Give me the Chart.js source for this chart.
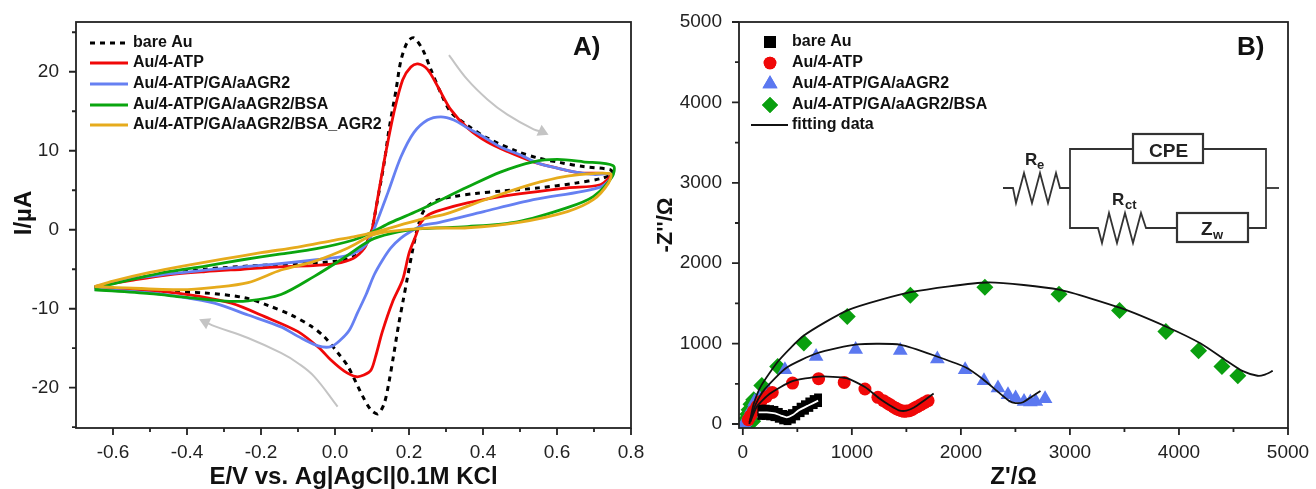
<!DOCTYPE html>
<html>
<head>
<meta charset="utf-8">
<title>CV and EIS</title>
<script src="https://cdn.jsdelivr.net/npm/chart.js@4"></script>
<style>
  body { margin: 0; background: #fff; }
  canvas { position: absolute; top: 0; }
  #chartA { left: 0; }
  #chartB { left: 650px; }
</style>
</head>
<body>
<canvas id="chartA" width="650" height="489"></canvas>
<canvas id="chartB" width="666" height="489"></canvas>
<script>
// Panel A: cyclic voltammograms, [E, I] pairs
const cvBare = [[-0.65,-7.3],[-0.55,-6.2],[-0.45,-5.6],[-0.35,-5],[-0.3,-4.8],[-0.2,-4.5],[-0.1,-4.3],[0,-4],[0.05,-3.4],[0.08,-2.2],[0.092,-1],[0.1,0],[0.108,2],[0.133,8.5],[0.146,12.7],[0.165,17.7],[0.178,21.4],[0.196,23.8],[0.213,24.3],[0.237,22.8],[0.259,20.3],[0.286,17.3],[0.313,14.9],[0.358,13.2],[0.412,11.6],[0.493,9.9],[0.547,9.1],[0.609,8.5],[0.671,8],[0.744,7.6],[0.75,7.1],[0.72,6.5],[0.65,5.9],[0.55,5.3],[0.45,4.9],[0.38,4.6],[0.32,4.2],[0.27,3.6],[0.24,2.4],[0.222,0],[0.208,-3],[0.196,-6],[0.184,-9],[0.172,-12],[0.158,-16],[0.145,-19.5],[0.133,-22],[0.116,-23.3],[0.097,-22.8],[0.075,-21.1],[0.035,-17.3],[0.008,-15.6],[-0.03,-13.5],[-0.065,-12.2],[-0.118,-10.8],[-0.18,-9.6],[-0.245,-8.6],[-0.353,-8],[-0.46,-7.8],[-0.65,-7.3]];
const cvAtp = [[-0.65,-7.2],[-0.55,-6.4],[-0.45,-5.7],[-0.35,-5.3],[-0.25,-5],[-0.15,-4.7],[-0.05,-4.5],[0,-4.3],[0.05,-3.6],[0.08,-2.3],[0.092,-1],[0.1,0],[0.108,2],[0.119,5],[0.137,9.7],[0.159,14.8],[0.183,19],[0.205,20.6],[0.224,21],[0.25,20.3],[0.278,18.1],[0.313,15.2],[0.358,12.9],[0.412,11.1],[0.466,9.9],[0.536,8.6],[0.601,7.8],[0.663,7.2],[0.744,7],[0.717,5.7],[0.628,5.3],[0.447,4.2],[0.358,3.4],[0.286,2.5],[0.253,1.9],[0.232,0.9],[0.218,-0.8],[0.2,-3],[0.183,-6.3],[0.155,-9.2],[0.128,-12.9],[0.11,-16],[0.097,-17.8],[0.078,-18.4],[0.057,-18.6],[0.025,-17.9],[-0.011,-16.5],[-0.042,-15],[-0.1,-12.9],[-0.19,-11],[-0.28,-9.3],[-0.37,-8.4],[-0.47,-7.8],[-0.65,-7.3]];
const cvAgr2 = [[-0.65,-7.2],[-0.55,-6.2],[-0.45,-5.6],[-0.35,-5.1],[-0.25,-4.7],[-0.15,-4.3],[-0.05,-3.8],[0.03,-3.3],[0.07,-2.5],[0.09,-1.5],[0.105,0],[0.143,4.7],[0.178,9.2],[0.213,12.3],[0.25,13.9],[0.286,14.3],[0.321,13.9],[0.358,12.9],[0.4,11.8],[0.45,10.4],[0.5,9.5],[0.55,8.4],[0.6,7.8],[0.65,7.3],[0.7,7],[0.75,7],[0.717,5.4],[0.536,3.8],[0.402,2.3],[0.28,0.9],[0.24,0.6],[0.213,0],[0.178,-1.05],[0.151,-2.3],[0.129,-3.8],[0.106,-5.7],[0.084,-8.2],[0.061,-10.5],[0.039,-12.7],[0.016,-13.9],[-0.011,-14.8],[-0.046,-14.7],[-0.1,-13.5],[-0.146,-12.3],[-0.235,-10.8],[-0.326,-9.3],[-0.415,-8.5],[-0.5,-8],[-0.65,-7.5]];
const cvBsa = [[-0.65,-7.4],[-0.55,-6.3],[-0.45,-5.3],[-0.35,-4.6],[-0.25,-3.8],[-0.15,-3.1],[-0.05,-2.4],[0.05,-1.3],[0.1,-0.3],[0.15,0.9],[0.224,2.4],[0.358,5.4],[0.447,7.3],[0.536,8.6],[0.601,8.9],[0.671,8.6],[0.752,8.1],[0.749,6.7],[0.698,4.2],[0.628,2.8],[0.493,1],[0.358,0.4],[0.224,0.1],[0.15,-0.5],[0.097,-1.3],[0.016,-3.8],[-0.056,-5.9],[-0.146,-8.2],[-0.235,-9],[-0.307,-9],[-0.415,-8.5],[-0.5,-8.1],[-0.65,-7.6]];
const cvBsaAgr2 = [[-0.65,-7.2],[-0.6,-6.5],[-0.5,-5.4],[-0.4,-4.5],[-0.3,-3.7],[-0.2,-2.9],[-0.1,-2.2],[0,-1.3],[0.05,-0.9],[0.1,-0.4],[0.232,1.3],[0.3,2],[0.4,3.7],[0.5,5.3],[0.55,6],[0.628,6.8],[0.744,7.1],[0.739,5.9],[0.698,3.8],[0.628,2.3],[0.493,0.9],[0.358,0.25],[0.25,0.2],[0.15,-0.2],[0.1,-0.7],[0.035,-2.3],[-0.056,-4],[-0.146,-5.1],[-0.235,-6.7],[-0.326,-7.3],[-0.415,-7.6],[-0.6,-7.3],[-0.65,-7.2]];
// grey scan direction arrows
const arrowForward = [[0.308,22.1],[0.358,19],[0.412,16.5],[0.465,14.6],[0.537,12.7],[0.56,12.4]];
const arrowBackward = [[0.007,-22.4],[-0.056,-18.6],[-0.1,-16.9],[-0.146,-15.6],[-0.235,-13.7],[-0.326,-12.2],[-0.35,-11.7]];

// Panel B: Nyquist points, [Z', -Z''] pairs
const eisBare = [[170,190],[210,190],[250,185],[290,175],[330,150],[370,125],[410,115],[450,135],[490,175],[530,215],[570,245],[610,280],[650,310],[690,330],[170,100],[210,100],[250,95],[290,85],[330,65],[370,45],[410,35],[450,55],[490,95],[530,135],[570,165],[610,200],[650,235],[690,260]];
const eisAtp = [[50,54],[70,100],[97,157],[130,220],[166,281],[215,340],[270,393],[456,509],[695,563],[930,517],[1120,435],[1239,331],[1290,290],[1324,261],[1350,240],[1382,211],[1405,195],[1429,178],[1455,165],[1479,157],[1500,160],[1529,166],[1555,180],[1575,199],[1600,215],[1633,240],[1665,265],[1699,290]];
const eisAgr2 = [[12,5],[20,30],[50,95],[80,190],[108,281],[150,330],[235,405],[386,675],[672,840],[1035,925],[1444,915],[1784,807],[2039,675],[2212,538],[2340,447],[2432,364],[2502,323],[2579,281],[2637,273],[2687,281],[2772,315]];
const eisBsa = [[54,5],[70,15],[90,35],[35,40],[40,75],[45,120],[58,178],[75,245],[100,302],[174,480],[320,716],[560,1006],[958,1337],[1537,1602],[2220,1700],[2900,1614],[3455,1411],[3880,1150],[4180,910],[4394,716],[4540,600]];
// fitting lines
const fitBare = [[145,145],[220,145],[296,133],[350,105],[403,83],[460,115],[509,166],[600,230],[691,290]];
const fitAtp = [[70,30],[130,220],[250,380],[450,530],[700,590],[950,570],[1120,460],[1250,320],[1350,230],[1430,170],[1500,165],[1570,205],[1650,280],[1750,380]];
const fitAgr2 = [[60,20],[120,250],[200,430],[400,700],[680,880],[1050,990],[1450,985],[1800,830],[2050,700],[2200,560],[2340,400],[2440,290],[2500,260],[2570,270],[2650,340],[2730,410]];
const fitBsa = [[60,0],[100,250],[170,480],[330,790],[560,1100],[970,1420],[1540,1640],[2250,1760],[2900,1670],[3470,1440],[3900,1200],[4200,1000],[4420,800],[4580,660],[4720,600],[4780,610],[4860,660]];

// Tick labels
const aXTicks = [-0.6, -0.4, -0.2, 0, 0.2, 0.4, 0.6, 0.8];
const aXMinor = [-0.5, -0.3, -0.1, 0.1, 0.3, 0.5, 0.7];
const aYTicks = [-20, -10, 0, 10, 20];
const aYMinor = [-25, -15, -5, 5, 15, 25];
const bTicks = [0, 1000, 2000, 3000, 4000, 5000];
const bMinor = [500, 1500, 2500, 3500, 4500];

const FONT = "'Liberation Sans', Arial, sans-serif";
const RED = "#f00808", BLUE = "#6680f2", GREEN = "#0aa50f", GOLD = "#e6ab1c", GREY = "#c4c4c4";
const MARK_BLUE = "#5b78f0", MARK_GREEN = "#0a9f0f";

function toPoints(pairs) {
  return pairs.map((p) => ({ x: p[0], y: p[1] }));
}

function curve(pairs, color, extra) {
  return Object.assign({ data: toPoints(pairs), showLine: true, borderColor: color, borderWidth: 2.8, tension: 0.3, pointRadius: 0 }, extra);
}

function markers(pairs, color, style, radius) {
  return { data: toPoints(pairs), showLine: false, pointStyle: style, pointRadius: radius, pointBackgroundColor: color, pointBorderColor: color, pointBorderWidth: 0, order: 5 };
}

function fitLine(pairs, color) {
  return { data: toPoints(pairs), showLine: true, borderColor: color, borderWidth: 1.8, tension: 0.2, pointRadius: 0, order: 1 };
}

// Grey arrow: a curve ending in a rotated triangle point
function arrow(pairs, angle) {
  return {
    data: toPoints(pairs), showLine: true, borderColor: GREY, borderWidth: 2, tension: 0.4,
    pointStyle: "triangle", pointBackgroundColor: GREY, pointBorderWidth: 0,
    pointRadius: (c) => (c.dataIndex === pairs.length - 1 ? 7 : 0),
    pointRotation: angle,
  };
}

function axis(min, max, ticks, title, opts) {
  return {
    type: "linear", min, max,
    grid: { display: false }, border: { display: false },
    afterBuildTicks: (s) => { s.ticks = ticks.map((v) => ({ value: v })); },
    afterFit: opts.fit,
    ticks: { autoSkip: false, maxRotation: 0, padding: opts.pad, color: "#222", font: { family: FONT, size: 19 }, callback: (v) => (opts.fmt ? opts.fmt(v) : String(v)) },
    title: { display: !!title, text: title, color: "#111", padding: opts.titlePad, font: { family: FONT, size: opts.titleSize, weight: "bold" } },
  };
}

// Frame, major and minor tick marks
const frame = {
  id: "frame",
  afterDraw(chart, args, o) {
    const { ctx, chartArea: a, scales } = chart;
    ctx.save();
    ctx.strokeStyle = "#222";
    ctx.lineWidth = 1.8;
    ctx.strokeRect(a.left, a.top, a.right - a.left, a.bottom - a.top);
    const tickX = (v, len) => { const p = scales.x.getPixelForValue(v); ctx.moveTo(p, a.bottom); ctx.lineTo(p, a.bottom + len); };
    const tickY = (v, len) => { const p = scales.y.getPixelForValue(v); ctx.moveTo(a.left, p); ctx.lineTo(a.left - len, p); };
    ctx.beginPath();
    o.xTicks.forEach((v) => tickX(v, 7));
    o.xMinor.forEach((v) => tickX(v, 4));
    o.yTicks.forEach((v) => tickY(v, 7));
    o.yMinor.forEach((v) => tickY(v, 4));
    ctx.stroke();
    ctx.restore();
  },
};

// Hand placed legend, panel letter and the off-centre side title
const notes = {
  id: "notes",
  afterDraw(chart, args, o) {
    const ctx = chart.ctx;
    ctx.save();
    ctx.textBaseline = "middle";
    ctx.textAlign = "left";
    o.rows.forEach((r) => {
      if (r.line) {
        ctx.beginPath();
        ctx.strokeStyle = r.line;
        ctx.lineWidth = r.width;
        ctx.setLineDash(r.dash || []);
        ctx.moveTo(o.lineFrom, r.y);
        ctx.lineTo(o.lineTo, r.y);
        ctx.stroke();
        ctx.setLineDash([]);
      } else {
        ctx.fillStyle = r.color;
        Chart.helpers.drawPoint(ctx, { pointStyle: r.style, radius: r.radius, borderWidth: 0, rotation: 0 }, o.markX, r.y);
        ctx.fill();
      }
      ctx.fillStyle = "#111";
      ctx.font = "bold 16px " + FONT;
      ctx.fillText(r.text, o.textX, r.y);
    });
    ctx.font = "bold 26px " + FONT;
    ctx.fillText(o.letter, o.letterX, 48);
    if (o.side) {
      ctx.translate(o.side.x, o.side.y);
      ctx.rotate(-Math.PI / 2);
      ctx.textAlign = "center";
      ctx.font = "bold " + o.side.size + "px " + FONT;
      ctx.fillText(o.side.text, 0, 0);
    }
    ctx.restore();
  },
};

function poly(ctx, pts) {
  ctx.beginPath();
  pts.forEach((p, i) => (i ? ctx.lineTo(p[0], p[1]) : ctx.moveTo(p[0], p[1])));
  ctx.stroke();
}

// Equivalent circuit inset of panel B
const circuit = {
  id: "circuit",
  afterDraw(chart) {
    const ctx = chart.ctx;
    ctx.save();
    ctx.translate(350, 120);
    ctx.strokeStyle = "#333";
    ctx.lineWidth = 1.8;
    poly(ctx, [[3,68],[13,68],[16,83],[24,53],[32,83],[40,53],[48,83],[56,53],[60,68],[70,68]]);
    poly(ctx, [[133,29],[70,29],[70,108],[98,108],[102,123],[109,93],[117,123],[125,93],[133,123],[141,93],[146,108],[177,108]]);
    poly(ctx, [[203,29],[266,29],[266,108],[248,108]]);
    poly(ctx, [[266,68],[279,68]]);
    ctx.lineWidth = 2.2;
    ctx.strokeRect(133, 14, 70, 29);
    ctx.strokeRect(177, 93, 71, 29);
    ctx.fillStyle = "#222";
    ctx.textBaseline = "alphabetic";
    ctx.font = "bold 19px " + FONT;
    ctx.fillText("CPE", 149, 37);
    ctx.fillText("Z", 201, 115);
    ctx.font = "bold 17px " + FONT;
    ctx.fillText("R", 25, 45);
    ctx.fillText("R", 112, 85);
    ctx.font = "bold 13px " + FONT;
    ctx.fillText("e", 37, 49);
    ctx.fillText("ct", 125, 89);
    ctx.fillText("w", 213, 119);
    ctx.restore();
  },
};

new Chart(document.getElementById("chartA"), {
  type: "scatter",
  data: {
    datasets: [
      curve(cvBare, "#000", { borderDash: [5, 5], borderWidth: 3, order: 6 }),
      curve(cvAtp, RED, { order: 5 }),
      curve(cvAgr2, BLUE, { order: 4 }),
      curve(cvBsa, GREEN, { order: 3 }),
      curve(cvBsaAgr2, GOLD, { order: 2 }),
      arrow(arrowForward, 115),
      arrow(arrowBackward, -65),
    ],
  },
  options: {
    responsive: false,
    animation: false,
    layout: { autoPadding: false, padding: { top: 22, right: 19 } },
    scales: {
      x: axis(-0.7, 0.8, aXTicks, "E/V vs. Ag|AgCl|0.1M KCl", { fit: (s) => { s.height = 61; }, pad: 5, titleSize: 24, titlePad: { top: 0, bottom: -3 }, fmt: (v) => v.toFixed(1) }),
      y: axis(-25.1, 26.3, aYTicks, "", { fit: (s) => { s.width = 76; }, pad: 9, titleSize: 24, titlePad: 0 }),
    },
    plugins: {
      legend: { display: false },
      tooltip: { enabled: false },
      frame: { xTicks: aXTicks, xMinor: aXMinor, yTicks: aYTicks, yMinor: aYMinor },
      notes: {
        lineFrom: 90, lineTo: 128, textX: 133, letter: "A)", letterX: 573,
        side: { text: "I/\u00b5A", x: 24, y: 213, size: 24 },
        rows: [
          { y: 43, line: "#000", width: 3, dash: [5, 5], text: "bare Au" },
          { y: 63, line: RED, width: 3, text: "Au/4-ATP" },
          { y: 84, line: BLUE, width: 3, text: "Au/4-ATP/GA/aAGR2" },
          { y: 105, line: GREEN, width: 3, text: "Au/4-ATP/GA/aAGR2/BSA" },
          { y: 125, line: GOLD, width: 3, text: "Au/4-ATP/GA/aAGR2/BSA_AGR2" },
        ],
      },
    },
  },
  plugins: [frame, notes],
});

new Chart(document.getElementById("chartB"), {
  type: "scatter",
  data: {
    datasets: [
      fitLine(fitBare, "#fff"),
      fitLine(fitAtp, "#111"),
      fitLine(fitAgr2, "#111"),
      fitLine(fitBsa, "#111"),
      markers(eisBare, "#000", "rect", 5.6),
      markers(eisAtp, RED, "circle", 6.5),
      markers(eisAgr2, MARK_BLUE, "triangle", 8.5),
      markers(eisBsa, MARK_GREEN, "rectRot", 8.5),
    ],
  },
  options: {
    responsive: false,
    animation: false,
    layout: { autoPadding: false, padding: { top: 22, right: 28 } },
    scales: {
      x: axis(-35, 5000, bTicks, "Z'/\u03a9", { fit: (s) => { s.height = 61; }, pad: 5, titleSize: 24, titlePad: { top: 0, bottom: -3 } }),
      y: axis(-50, 5000, bTicks, "-Z''/\u03a9", { fit: (s) => { s.width = 89; }, pad: 9, titleSize: 22, titlePad: { top: 3, bottom: 0 } }),
    },
    plugins: {
      legend: { display: false },
      tooltip: { enabled: false },
      frame: { xTicks: bTicks, xMinor: bMinor, yTicks: bTicks, yMinor: bMinor },
      notes: {
        lineFrom: 101, lineTo: 138, markX: 120, textX: 142, letter: "B)", letterX: 587,
        rows: [
          { y: 42, color: "#000", style: "rect", radius: 8.5, text: "bare Au" },
          { y: 63, color: RED, style: "circle", radius: 6.3, text: "Au/4-ATP" },
          { y: 84, color: MARK_BLUE, style: "triangle", radius: 8.7, text: "Au/4-ATP/GA/aAGR2" },
          { y: 105, color: MARK_GREEN, style: "rectRot", radius: 8, text: "Au/4-ATP/GA/aAGR2/BSA" },
          { y: 125, line: "#111", width: 2, text: "fitting data" },
        ],
      },
    },
  },
  plugins: [frame, notes, circuit],
});
</script>
</body>
</html>
